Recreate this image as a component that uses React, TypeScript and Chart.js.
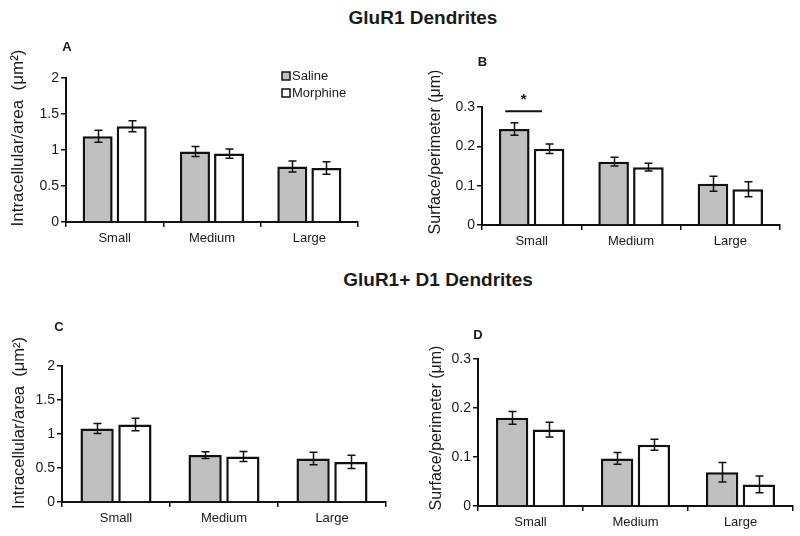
import React, { useEffect, useRef } from 'react';
import { Chart, registerables } from 'chart.js';

Chart.register(...registerables);

// ---------- data ----------
const categories = ['Small', 'Medium', 'Large'];
const seriesNames = ['Saline', 'Morphine'];

const salineA = [1.19, 0.98, 0.77];
const salineAErr = [0.084, 0.07, 0.077];
const morphineA = [1.33, 0.95, 0.75];
const morphineAErr = [0.075, 0.063, 0.088];

const salineB = [0.244, 0.161, 0.105];
const salineBErr = [0.016, 0.011, 0.019];
const morphineB = [0.194, 0.147, 0.091];
const morphineBErr = [0.012, 0.01, 0.019];

const salineC = [1.08, 0.69, 0.64];
const salineCErr = [0.074, 0.049, 0.091];
const morphineC = [1.14, 0.67, 0.59];
const morphineCErr = [0.093, 0.074, 0.098];

const salineD = [0.18, 0.097, 0.069];
const salineDErr = [0.013, 0.012, 0.02];
const morphineD = [0.156, 0.125, 0.044];
const morphineDErr = [0.015, 0.011, 0.017];

const ticksArea = [0, 0.5, 1, 1.5, 2];
const ticksSurface = [0, 0.1, 0.2, 0.3];

const sigCategoryB = 0; // "Small" significant in panel B
const sigLevelB = 0.289;

const titleTop = 'GluR1 Dendrites';
const titleBottom = 'GluR1+ D1 Dendrites';
const yTitleArea = 'Intracellular/area  (\u03BCm\u00B2)';
const yTitleSurface = 'Surface/perimeter (\u03BCm)';

// ---------- style ----------
const FONT = "'Liberation Sans', Arial, Helvetica, sans-serif";
const TEXT = '#1a1a1a';
const LINE = '#111111';
const seriesColors = ['#c0c0c0', '#ffffff'];

type Box = { left: number; top: number; w: number; h: number };
type Area = { left: number; top: number; right: number; bottom: number };
type PanelDef = {
  letter: string;
  box: Box;
  area: Area;
  yTitle: string;
  yTitleSize: number;
  yTitlePos: { x: number; y: number };
  letterPos: { x: number; y: number };
  values: number[][];
  errors: number[][];
  ticks: number[];
  legend?: { x: number; y: number };
  sig?: { category: number; level: number };
};

const panels: PanelDef[] = [
  {
    letter: 'A',
    box: { left: 0, top: 30, w: 400, h: 240 },
    area: { left: 66, top: 48, right: 358, bottom: 192 },
    yTitle: yTitleArea,
    yTitleSize: 17,
    yTitlePos: { x: 18, y: 108 },
    letterPos: { x: 67, y: 17 },
    values: [salineA, morphineA],
    errors: [salineAErr, morphineAErr],
    ticks: ticksArea,
    legend: { x: 282, y: 42 },
  },
  {
    letter: 'B',
    box: { left: 400, top: 30, w: 400, h: 240 },
    area: { left: 82, top: 77, right: 380, bottom: 195 },
    yTitle: yTitleSurface,
    yTitleSize: 16,
    yTitlePos: { x: 36, y: 122 },
    letterPos: { x: 82.5, y: 32 },
    values: [salineB, morphineB],
    errors: [salineBErr, morphineBErr],
    ticks: ticksSurface,
    sig: { category: sigCategoryB, level: sigLevelB },
  },
  {
    letter: 'C',
    box: { left: 0, top: 270, w: 400, h: 266 },
    area: { left: 62, top: 96, right: 386, bottom: 232 },
    yTitle: yTitleArea,
    yTitleSize: 16.5,
    yTitlePos: { x: 19, y: 153 },
    letterPos: { x: 59, y: 57.5 },
    values: [salineC, morphineC],
    errors: [salineCErr, morphineCErr],
    ticks: ticksArea,
  },
  {
    letter: 'D',
    box: { left: 400, top: 270, w: 400, h: 266 },
    area: { left: 78, top: 89, right: 393, bottom: 236 },
    yTitle: yTitleSurface,
    yTitleSize: 16,
    yTitlePos: { x: 36.5, y: 158 },
    letterPos: { x: 78, y: 65 },
    values: [salineD, morphineD],
    errors: [salineDErr, morphineDErr],
    ticks: ticksSurface,
  },
];

function makePlugin(p: PanelDef) {
  return {
    id: 'panelExtras' + p.letter,
    afterDatasetsDraw(chart: any) {
      const ctx = chart.ctx;
      const y = chart.scales.y;
      ctx.save();
      ctx.strokeStyle = LINE;
      ctx.lineWidth = 1.5;
      p.values.forEach((vals, di) => {
        const meta = chart.getDatasetMeta(di);
        meta.data.forEach((el: any, i: number) => {
          const v = vals[i];
          const e = p.errors[di][i];
          const x = Math.round(el.x) + 0.5;
          const y1 = y.getPixelForValue(v + e);
          const y2 = y.getPixelForValue(v - e);
          ctx.beginPath();
          ctx.moveTo(x, y1);
          ctx.lineTo(x, y2);
          ctx.moveTo(x - 4, y1);
          ctx.lineTo(x + 4, y1);
          ctx.moveTo(x - 4, y2);
          ctx.lineTo(x + 4, y2);
          ctx.stroke();
        });
      });
      ctx.restore();
    },
    afterDraw(chart: any) {
      const ctx = chart.ctx;
      ctx.save();
      ctx.fillStyle = TEXT;
      // y-axis title
      ctx.save();
      ctx.translate(p.yTitlePos.x, p.yTitlePos.y);
      ctx.rotate(-Math.PI / 2);
      ctx.font = `${p.yTitleSize}px ${FONT}`;
      ctx.textAlign = 'center';
      ctx.textBaseline = 'middle';
      ctx.fillText(p.yTitle, 0, 0);
      ctx.restore();
      // panel letter
      ctx.font = `bold 13px ${FONT}`;
      ctx.textAlign = 'center';
      ctx.textBaseline = 'middle';
      ctx.fillText(p.letter, p.letterPos.x, p.letterPos.y);
      // legend
      if (p.legend) {
        seriesNames.forEach((name, i) => {
          const bx = p.legend!.x;
          const by = p.legend!.y + i * 17;
          ctx.fillStyle = seriesColors[i];
          ctx.fillRect(bx, by, 8, 8);
          ctx.strokeStyle = LINE;
          ctx.lineWidth = 1.5;
          ctx.strokeRect(bx, by, 8, 8);
          ctx.fillStyle = TEXT;
          ctx.font = `13px ${FONT}`;
          ctx.textAlign = 'left';
          ctx.textBaseline = 'middle';
          ctx.fillText(name, bx + 10, by + 4.5);
        });
      }
      // significance marker
      if (p.sig) {
        const s0 = chart.getDatasetMeta(0).data[p.sig.category];
        const s1 = chart.getDatasetMeta(1).data[p.sig.category];
        const ly = chart.scales.y.getPixelForValue(p.sig.level);
        const x0 = s0.x - 9;
        const x1 = s1.x - 7;
        ctx.strokeStyle = LINE;
        ctx.lineWidth = 2;
        ctx.beginPath();
        ctx.moveTo(x0, ly);
        ctx.lineTo(x1, ly);
        ctx.stroke();
        ctx.fillStyle = TEXT;
        ctx.font = `bold 15px ${FONT}`;
        ctx.textAlign = 'center';
        ctx.textBaseline = 'alphabetic';
        ctx.fillText('*', (x0 + x1) / 2, ly - 7);
      }
      ctx.restore();
    },
  };
}

function Panel({ p }: { p: PanelDef }) {
  const ref = useRef<HTMLCanvasElement | null>(null);
  useEffect(() => {
    if (!ref.current) return;
    const max = p.ticks[p.ticks.length - 1];
    const chart = new Chart(ref.current, {
      type: 'bar',
      data: {
        labels: categories,
        datasets: seriesNames.map((name, i) => ({
          label: name,
          data: p.values[i],
          backgroundColor: seriesColors[i],
          borderColor: LINE,
          borderWidth: 2.5,
          borderSkipped: 'bottom',
          categoryPercentage: 0.7,
          barPercentage: 0.88,
        })),
      },
      options: {
        animation: false,
        responsive: true,
        maintainAspectRatio: false,
        events: [],
        layout: {
          padding: { top: p.area.top, right: p.box.w - p.area.right, left: 0, bottom: 0 },
        },
        plugins: { legend: { display: false }, tooltip: { enabled: false } },
        scales: {
          x: {
            offset: true,
            grid: {
              display: true,
              offset: true,
              drawOnChartArea: false,
              drawTicks: true,
              tickLength: 5,
              color: LINE,
              lineWidth: 1.5,
            },
            border: { display: true, color: LINE, width: 2 },
            ticks: { font: { family: FONT, size: 13 }, color: TEXT, padding: 4, maxRotation: 0 },
            afterFit: (s: any) => {
              s.height = p.box.h - p.area.bottom;
            },
          },
          y: {
            min: 0,
            max,
            grid: {
              display: true,
              drawOnChartArea: false,
              drawTicks: true,
              tickLength: 5,
              color: LINE,
              lineWidth: 1.5,
            },
            border: { display: true, color: LINE, width: 2 },
            ticks: {
              font: { family: FONT, size: 14 },
              color: TEXT,
              padding: 2,
              callback: (v: any) => `${v}`,
            },
            afterBuildTicks: (s: any) => {
              s.ticks = p.ticks.map((v) => ({ value: v }));
            },
            afterFit: (s: any) => {
              s.width = p.area.left;
            },
          },
        },
      } as any,
      plugins: [makePlugin(p)],
    });
    return () => chart.destroy();
  }, [p]);
  return (
    <div
      style={{
        position: 'absolute',
        left: p.box.left,
        top: p.box.top,
        width: p.box.w,
        height: p.box.h,
      }}
    >
      <canvas ref={ref} />
    </div>
  );
}

export default function App() {
  const titleStyle: React.CSSProperties = {
    position: 'absolute',
    transform: 'translateX(-50%)',
    whiteSpace: 'nowrap',
    fontFamily: FONT,
    fontWeight: 'bold',
    fontSize: 19,
    lineHeight: '19px',
    color: TEXT,
  };
  return (
    <div
      style={{
        position: 'absolute',
        left: 0,
        top: 0,
        width: 800,
        height: 536,
        background: '#ffffff',
        overflow: 'hidden',
      }}
    >
      <div style={{ ...titleStyle, left: 423, top: 8 }}>{titleTop}</div>
      <div style={{ ...titleStyle, left: 438, top: 270 }}>{titleBottom}</div>
      {panels.map((p) => (
        <Panel key={p.letter} p={p} />
      ))}
    </div>
  );
}
